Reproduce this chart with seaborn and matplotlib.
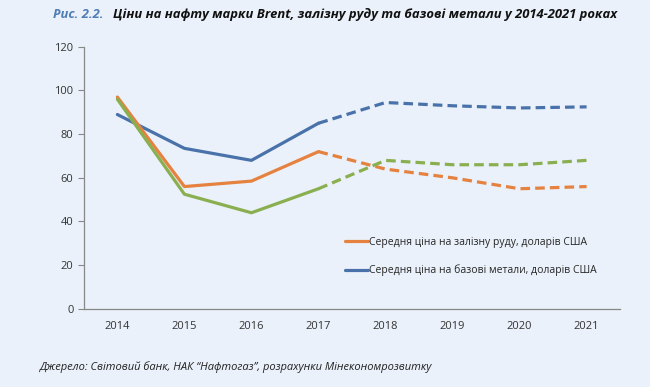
from matplotlib import pyplot as plt
from matplotlib.lines import Line2D
import pandas as pd
import seaborn as sn

# Дані з рисунку (оцінка з графіка)
years = ['2014', '2015', '2016', '2017', '2018', '2019', '2020', '2021']
metals = [89, 73.5, 68, 85, 94.5, 93, 92, 92.5]
ore = [97, 56, 58.5, 72, 64, 60, 55, 56]
brent = [96, 52.5, 44, 55, 68, 66, 66, 68]
last_fact = 3  # 2017 - останній фактичний рік, далі прогноз

series = {'metals': metals, 'ore': ore, 'brent': brent}
colors = {'metals': '#4A72AA', 'ore': '#E5823F', 'brent': '#8AAF50'}
labels = {'ore': 'Середня ціна на залізну руду, доларів США',
          'metals': 'Середня ціна на базові метали, доларів США'}

rows = []
for name, vals in series.items():
    for i, v in enumerate(vals):
        rows.append({'series': name, 'x': i, 'value': v})
df = pd.DataFrame(rows)

sn.set_style('white')
plt.rcParams['font.family'] = ['Open Sans', 'DejaVu Sans']
bg = '#EAF1FA'

fig = plt.figure(figsize=(6.5, 3.87), dpi=100, facecolor=bg)
ax = fig.add_axes([0.129, 0.202, 0.825, 0.677])
ax.set_facecolor(bg)

fact = df[df['x'] <= last_fact]
fcst = df[df['x'] >= last_fact]
sn.lineplot(data=fact, x='x', y='value', hue='series', palette=colors,
            linewidth=2.3, ax=ax, legend=False)
sn.lineplot(data=fcst, x='x', y='value', hue='series', palette=colors,
            linewidth=2.3, ax=ax, legend=False)
for ln in ax.lines[3:]:
    ln.set_dashes((3, 1.6))

ax.set_xlim(-0.5, len(years) - 0.5)
ax.set_ylim(0, 120)
ax.set_yticks(range(0, 121, 20))
ax.set_xticks(range(len(years)))
ax.set_xticklabels(years)
ax.set_xticks([i + 0.5 for i in range(-1, len(years))], minor=True)
ax.tick_params(axis='x', which='major', length=0, labelsize=8, pad=9, colors='#333333')
ax.tick_params(axis='x', which='minor', length=4, color='#888888', direction='out')
ax.tick_params(axis='y', length=4, color='#888888', labelsize=8, colors='#333333', direction='out', left=True)
ax.set_xlabel('')
ax.set_ylabel('')
for s in ['top', 'right']:
    ax.spines[s].set_visible(False)
for s in ['left', 'bottom']:
    ax.spines[s].set_color('#888888')
    ax.spines[s].set_linewidth(0.9)

handles = [Line2D([], [], color=colors[k], lw=2.3) for k in ['ore', 'metals']]
leg = ax.legend(handles, [labels['ore'], labels['metals']], loc='upper left',
                bbox_to_anchor=(0.47, 0.31), frameon=False, fontsize=7.5,
                handlelength=2.2, handletextpad=0.1, labelspacing=1.6)

fig.text(0.082, 0.962, 'Рис. 2.2.', color='#4F7DB5', style='italic',
         fontweight='bold', fontsize=9.4, va='center')
fig.text(0.174, 0.962, 'Ціни на нафту марки Brent, залізну руду та базові метали у 2014-2021 роках',
         color='#111111', style='italic', fontweight='bold', fontsize=9.4, va='center')
fig.text(0.062, 0.052, 'Джерело: Світовий банк, НАК “Нафтогаз”, розрахунки Мінекономрозвитку',
         color='#222222', style='italic', fontsize=8, va='center')

fig.savefig('out.png', dpi=100, facecolor=bg)
